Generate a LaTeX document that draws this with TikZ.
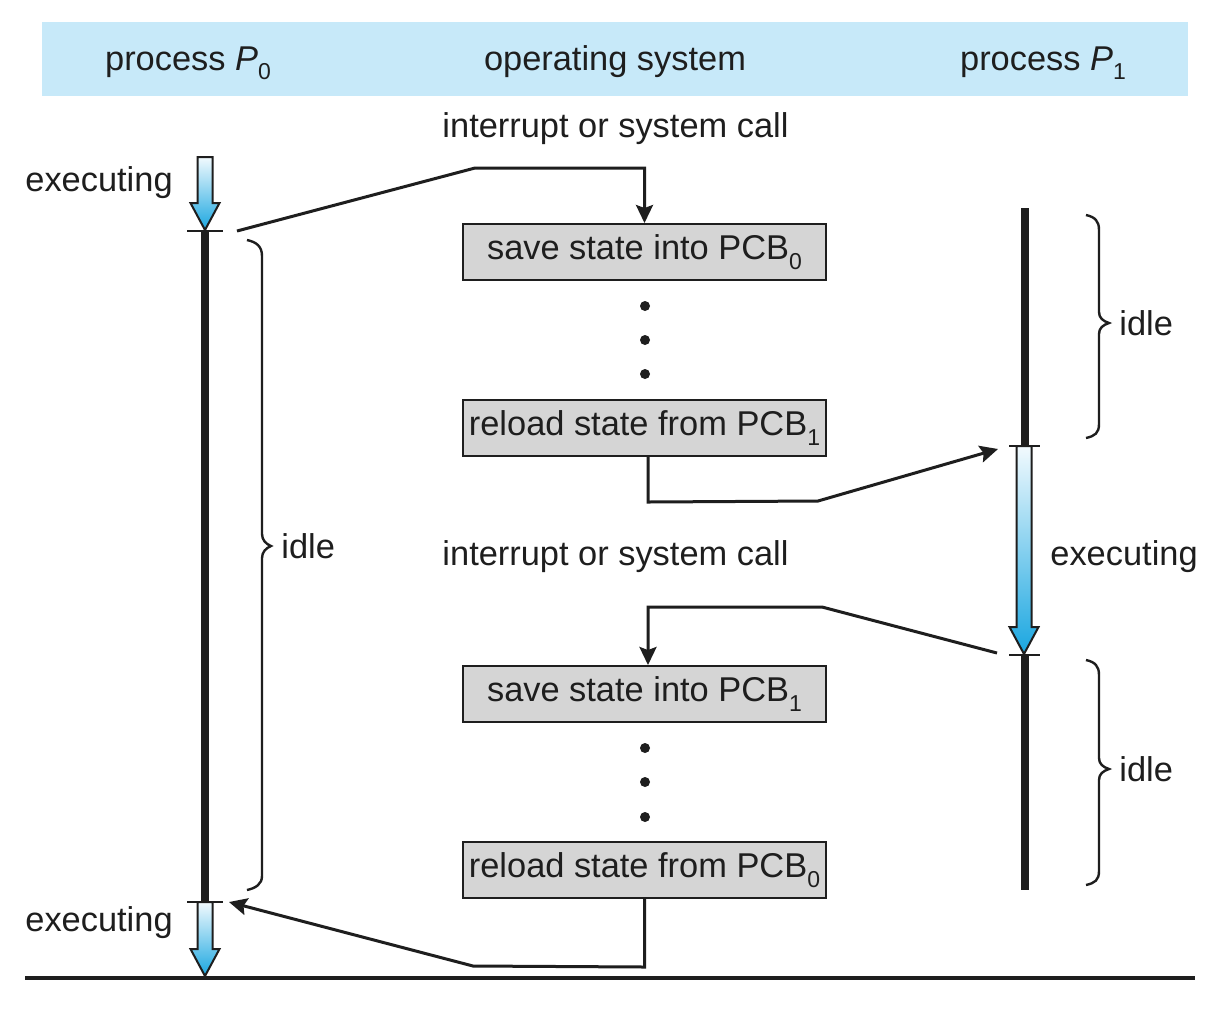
\documentclass[tikz,border=0pt]{standalone}
\usepackage{fontspec}
\setmainfont{Liberation Sans}
\usetikzlibrary{arrows.meta}
\definecolor{hdr}{HTML}{C7E9F9}
\definecolor{boxgray}{HTML}{D5D5D5}
\definecolor{arrtop}{HTML}{F2FAFE}
\definecolor{arrbot}{HTML}{19A6E0}
\definecolor{ink}{HTML}{1E1E1E}
\newcommand\subdig[1]{\raisebox{-0.28em}{\fontsize{11.5}{12}\selectfont #1}}
\newcommand\blockarrow[3]{%
  \path[draw=ink, line width=1pt, top color=arrtop, bottom color=arrbot]
    (#1-7.5,#2) -- (#1+7.5,#2) -- (#1+7.5,#3-27) -- (#1+14.5,#3-27) -- (#1,#3)
    -- (#1-14.5,#3-27) -- (#1-7.5,#3-27) -- cycle;}
\begin{document}
\begin{tikzpicture}[x=0.5pt,y=-0.5pt,
  every node/.style={font=\fontsize{17.2}{20}\selectfont, text=ink},
  lbl/.style={inner sep=0pt, anchor=base},
  osbox/.style={draw=ink, line width=1pt, fill=boxgray, minimum width=181.5pt,
    minimum height=28pt, inner sep=0pt},
  conn/.style={draw=ink, line width=1.5pt, line join=miter,
    -{Stealth[length=9pt,width=8.5pt,inset=1.5pt]}},
  plain/.style={draw=ink, line width=1.5pt, line join=miter},
  thick line/.style={draw=ink, line width=4.3pt},
  tick/.style={draw=ink, line width=1pt},
  bracepath/.style={draw=ink, line width=1.2pt},
  dot/.style={circle, fill=ink, inner sep=0pt, minimum size=5pt}]
\useasboundingbox (0,0) rectangle (1232,1014);
\fill[white] (0,0) rectangle (1232,1014);
% header band
\fill[hdr] (42,22) rectangle (1188,96);
\node[lbl] (hp0) at (188,70) {process {\itshape P}\subdig{0}};
\node[lbl] (hos) at (615,70) {operating system};
\node[lbl] (hp1) at (1043,70) {process {\itshape P}\subdig{1}};
% labels
\node[lbl] (irq1) at (615.5,137) {interrupt or system call};
\node[lbl] (irq2) at (615.5,565) {interrupt or system call};
\node[lbl, anchor=base west] (ex1) at (25,191) {executing};
\node[lbl, anchor=base west] (ex2) at (25,931) {executing};
\node[lbl, anchor=base west] (ex3) at (1050,565) {executing};
\node[lbl, anchor=base west] (idle0) at (281,558) {idle};
\node[lbl, anchor=base west] (idle1) at (1119,335) {idle};
\node[lbl, anchor=base west] (idle2) at (1119,781) {idle};
% OS boxes
\node[osbox] (save0) at (644.5,252) {save state into PCB\subdig{0}};
\node[osbox] (load1) at (644.5,428) {reload state from PCB\subdig{1}};
\node[osbox] (save1) at (644.5,694) {save state into PCB\subdig{1}};
\node[osbox] (load0) at (644.5,870) {reload state from PCB\subdig{0}};
% dots
\foreach \yy/\nm in {306/da,340/db,374/dc,748/dd,782/de,817/df}
  \node[dot] (\nm) at (645,\yy) {};
% process P0 timeline
\blockarrow{205}{157}{230}
\draw[tick] (187,231) -- (223,231);
\draw[thick line] (205,231) -- (205,902);
\draw[tick] (187,902) -- (223,902);
\blockarrow{205}{902}{976}
% baseline
\draw[draw=ink, line width=2pt] (25,978) -- (1195,978);
% process P1 timeline
\draw[thick line] (1025,208) -- (1025,446);
\draw[tick] (1009,446) -- (1040,446);
\blockarrow{1024}{446}{654}
\draw[tick] (1009,655) -- (1040,655);
\draw[thick line] (1025,655) -- (1025,890);
% braces
\draw[bracepath] (247,240) .. controls (256,242) and (262,246) .. (262,256)
  -- (262,534) .. controls (262,540) and (266,544) .. (271,546)
  .. controls (266,548) and (262,552) .. (262,558)
  -- (262,876) .. controls (262,884) and (256,888) .. (247,890);
\draw[bracepath] (1086,215) .. controls (1095,217) and (1099,221) .. (1099,230)
  -- (1099,312) .. controls (1099,318) and (1103,321) .. (1109,323)
  .. controls (1103,325) and (1099,328) .. (1099,334)
  -- (1099,424) .. controls (1099,433) and (1095,436) .. (1086,438);
\draw[bracepath] (1086,660) .. controls (1095,662) and (1099,666) .. (1099,675)
  -- (1099,758) .. controls (1099,764) and (1103,767) .. (1109,769)
  .. controls (1103,771) and (1099,774) .. (1099,780)
  -- (1099,871) .. controls (1099,880) and (1095,883) .. (1086,885);
% connector end points
\coordinate (p0out) at (237,231);
\coordinate (p1in) at (998,449);
\coordinate (p1out) at (997,653);
\coordinate (p0in) at (229,902);
% connectors
\draw[conn] (p0out) -- (475,168) -- (save0.north |- 0,168) -- (save0.north);
\draw[conn] ([xshift=1.75pt]load1.south) -- ++(0,45) -- (818,501) -- (p1in);
\draw[conn] (p1out) -- (822,607) -- ([xshift=1.75pt]save1.north |- 0,607) -- ([xshift=1.75pt]save1.north);
\draw[conn] (load0.south) -- ++(0,68) -- (473,966) -- (p0in);
\end{tikzpicture}
\end{document}
